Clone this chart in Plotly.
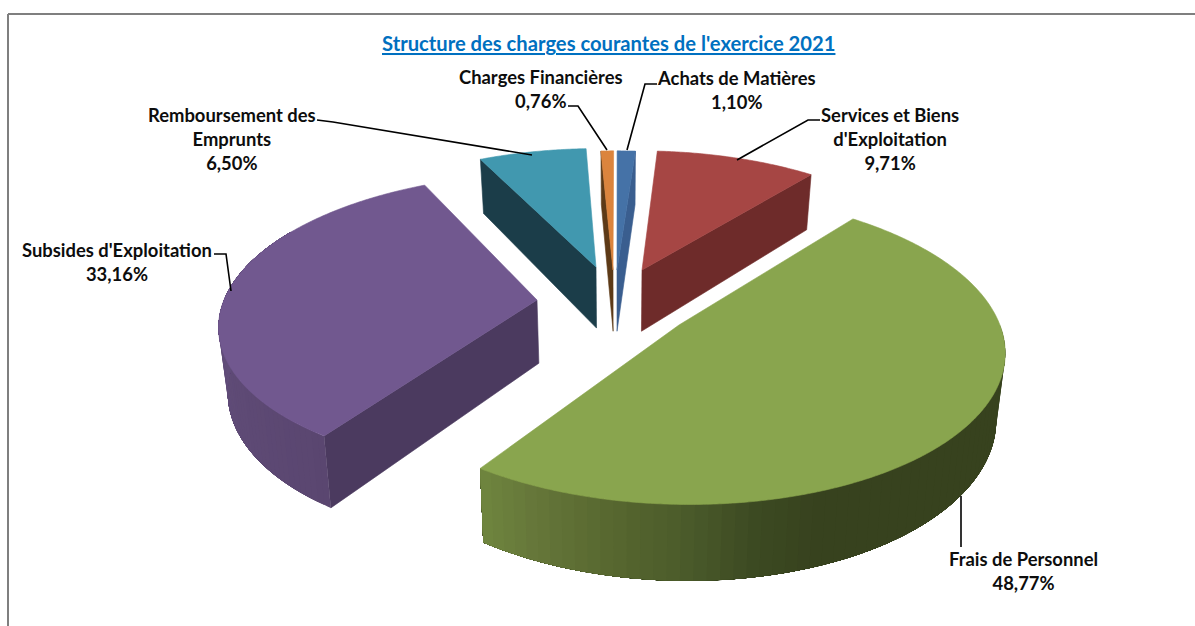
import math
import plotly.graph_objects as go

# ---- data ----
categories = ["Achats de Matières", "Services et Biens<br>d'Exploitation", "Frais de Personnel",
              "Subsides d'Exploitation", "Remboursement des<br>Emprunts", "Charges Financières"]
values = [1.10, 9.71, 48.77, 33.16, 6.50, 0.76]
title_text = "Structure des charges courantes de l'exercice 2021"

# ---- styles / layout ----
top_colors = ["#4572A7", "#A64644", "#89A54E", "#71588F", "#4198AF", "#DB843D"]
wall_colors = ["#3A5E8F", "#6E2B2A", None, "#4B3A5F", "#1B3D49", "#5D3A17"]
wall_edge = ["end", "end", None, "start", "start", "start"]
apex = [(617, 270), (642, 270), (679, 325), (537, 300), (596, 267), (613, 270)]
outer_grad = {2: [(90, "#37421E"), (160, "#37421E"), (170, "#3C4A22"), (180, "#4A5A2A"),
                  (190, "#55652E"), (205, "#66773A"), (214.5, "#6F863E")],
              3: [(214.5, "#5A4670"), (240, "#5E4A75"), (290, "#64507F")]}
label_pos = [(736, 90), (890, 139), (1023, 571), (117, 262), (232, 139), (541, 88.5)]
leaders = [[(657, 84), (645, 84), (627, 150)],
           [(820, 120), (808, 120), (737, 160)],
           [(961, 496), (961, 547)],
           [(214, 254), (226, 254), (231, 291)],
           [(317, 120), (333, 122), (532, 155)],
           [(568, 106), (578, 106), (607, 150)]]
CX, CY, RX, RY, K, DEPTH, SHRINK = 618, 297, 312, 144, 0.147, 63, 0.977
FONT = "Lato, Carlito, Calibri, sans-serif"


def world_of(px, py):
    d = CY - py
    y = d / (RY - K * d)
    p = 1 / (1 + K * y)
    return (px - CX) / (RX * p), y


def project(x, y, bottom=False):
    p = 1 / (1 + K * y)
    sx, sy = CX + RX * x * p, CY - RY * y * p
    if bottom:
        sx = CX + (sx - CX) * SHRINK
        sy += DEPTH * p
    return sx, sy


def rim(w0, deg, bottom=False):
    t = math.radians(deg)
    return project(w0[0] + math.sin(t), w0[1] + math.cos(t), bottom)


def frange(a, b, n):
    return [a + (b - a) * i / n for i in range(n + 1)]


def mix(stops, deg):
    def rgb(h):
        return [int(h[i:i + 2], 16) for i in (1, 3, 5)]
    if deg <= stops[0][0]:
        return stops[0][1]
    for (a, ca), (b, cb) in zip(stops, stops[1:]):
        if deg <= b:
            f = (deg - a) / (b - a)
            c = [round(u + (v - u) * f) for u, v in zip(rgb(ca), rgb(cb))]
            return "#%02X%02X%02X" % tuple(c)
    return stops[-1][1]


def poly(fig, pts, color, name, lw=0.6):
    xs = [p[0] for p in pts] + [pts[0][0]]
    ys = [p[1] for p in pts] + [pts[0][1]]
    fig.add_trace(go.Scatter(x=xs, y=ys, mode="lines", fill="toself", fillcolor=color,
                             line=dict(color=color, width=lw, simplify=False), name=name,
                             hoverinfo="skip", showlegend=False))


fig = go.Figure()
total = sum(values)
start = 0.0
for i, (cat, val) in enumerate(zip(categories, values)):
    end = start + val / total * 360
    w0 = world_of(*apex[i])
    name = cat.replace("<br>", " ")
    # radial wall
    if wall_edge[i]:
        deg = start if wall_edge[i] == "start" else end
        poly(fig, [project(*w0), rim(w0, deg), rim(w0, deg, True), project(*w0, True)], wall_colors[i], name)
    # outer curved wall: overlapping layers, each running to the far end, so no seams show
    if i in outer_grad:
        a = outer_grad[i][0][0] if i == 2 else start
        b = end if i == 2 else min(end, 300)
        angs = frange(a, b, 60)
        for u, v in zip(angs, angs[1:]):
            span = frange(u, b, max(2, int((b - u) / 0.75)))
            pts = [rim(w0, d) for d in span] + [rim(w0, d, True) for d in reversed(span)]
            poly(fig, pts, mix(outer_grad[i], (u + v) / 2), name, lw=0)
    # top face
    n = max(8, int((end - start) / 0.5))
    pts = [project(*w0)] + [rim(w0, d) for d in frange(start, end, n)]
    poly(fig, pts, top_colors[i], name)
    # leader and label
    fig.add_trace(go.Scatter(x=[p[0] for p in leaders[i]], y=[p[1] for p in leaders[i]], mode="lines",
                             line=dict(color="#000000", width=1.6), hoverinfo="skip", showlegend=False))
    pct = f"{val:.2f}".replace(".", ",") + "%"
    fig.add_annotation(x=label_pos[i][0], y=label_pos[i][1], text=f"<b>{cat}<br>{pct}</b>", showarrow=False,
                       align="center", font=dict(family=FONT, size=18.4, color="#0D0D0D"))
    start = end

fig.add_shape(type="line", x0=8, y0=14, x1=1195, y1=14, line=dict(color="#7F7F7F", width=2))
fig.add_shape(type="line", x0=8, y0=14, x1=8, y1=626, line=dict(color="#7F7F7F", width=2))
fig.add_annotation(x=608, y=43, text=f"<b><u>{title_text}</u></b>", showarrow=False,
                   font=dict(family=FONT, size=20.2, color="#0070C0"))

fig.update_layout(width=1195, height=626, margin=dict(l=0, r=0, t=0, b=0),
                  paper_bgcolor="white", plot_bgcolor="white", showlegend=False,
                  xaxis=dict(range=[0, 1195], visible=False, fixedrange=True),
                  yaxis=dict(range=[626, 0], visible=False, fixedrange=True))
fig.write_html("out.html", post_script="document.body.style.margin='0';document.body.style.overflow='hidden';",
               config={"displayModeBar": False})
